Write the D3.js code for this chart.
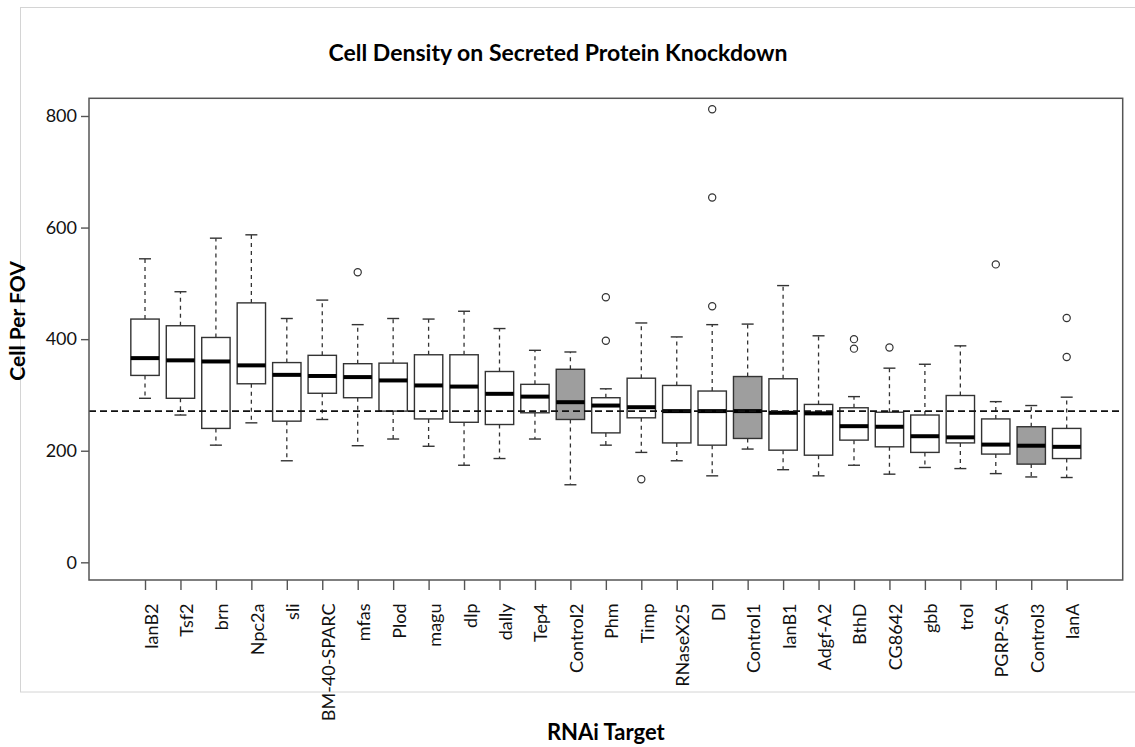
<!DOCTYPE html>
<html>
<head>
<meta charset="utf-8">
<script src="https://cdn.jsdelivr.net/npm/d3@7"></script>
<style>
  body { margin: 0; background: #fff; }
  svg { font-family: Lato, "Open Sans", sans-serif; }
</style>
</head>
<body>
<div id="chart"></div>
<script>
var width = 1135,
    height = 747;
var frame = { left: 89, right: 1122.7, top: 98.3, bottom: 580 };

var targets = ["lanB2", "Tsf2", "brn", "Npc2a", "sli", "BM-40-SPARC", "mfas", "Plod", "magu", "dlp",
    "dally", "Tep4", "Control2", "Phm", "Timp", "RNaseX25", "Dl", "Control1", "lanB1", "Adgf-A2",
    "BthD", "CG8642", "gbb", "trol", "PGRP-SA", "Control3", "lanA"];
var whiskerLow = [294, 264, 210, 250, 182, 256, 209, 221, 208, 174, 186, 221, 139, 210, 197, 182, 155, 203, 166, 155, 174, 158, 170, 168, 159, 153, 152];
var q1 = [335, 294, 240, 320, 253, 303, 295, 271, 257, 251, 247, 268, 256, 232, 259, 214, 210, 222, 201, 192, 219, 207, 197, 214, 194, 176, 186];
var medians = [366, 362, 360, 353, 336, 334, 332, 326, 317, 315, 302, 297, 287, 281, 278, 271, 271, 271, 268, 267, 244, 243, 226, 224, 211, 209, 207];
var q3 = [436, 424, 403, 465, 358, 371, 356, 357, 372, 372, 342, 319, 346, 295, 330, 317, 307, 333, 329, 283, 277, 269, 264, 299, 257, 243, 240];
var whiskerHigh = [544, 485, 581, 587, 437, 470, 426, 437, 436, 450, 419, 380, 377, 311, 429, 404, 426, 427, 496, 406, 297, 348, 355, 388, 288, 281, 296];
var outliers = [[], [], [], [], [], [], [520], [], [], [], [], [], [], [397, 475], [149], [], [459, 654, 812], [], [], [], [383, 400], [385], [], [], [534], [], [368, 438]];
var controls = ["Control1", "Control2", "Control3"];
var refLine = 271;
var yTicks = [0, 200, 400, 600, 800];

var data = targets.map((t, i) => ({
    name: t, lo: whiskerLow[i], q1: q1[i], med: medians[i], q3: q3[i], hi: whiskerHigh[i], out: outliers[i]
}));

var svg = d3.select("#chart").append("svg")
    .attr("width", width)
    .attr("height", height);

// faint outer border from the original figure
svg.append("rect")
    .attr("x", 20.5).attr("y", 7.5)
    .attr("width", 1130).attr("height", 684.5)
    .attr("fill", "none").attr("stroke", "#d4d4d4").attr("stroke-width", 1);

var x = d3.scalePoint()
    .domain(targets)
    .range([frame.left, frame.right])
    .padding(1.58);

var y = d3.scaleLinear()
    .domain([-31.7, 831.7])
    .range([frame.bottom, frame.top]);

var boxW = x.step() * 0.8;
var capW = 12;

var g = svg.append("g");

var box = g.selectAll(".box")
    .data(data)
    .enter().append("g")
    .attr("class", "box")
    .attr("transform", d => "translate(" + x(d.name) + ",0)");

// whiskers
box.append("line")
    .attr("y1", d => y(d.q3)).attr("y2", d => y(d.hi))
    .attr("stroke", "#333").attr("stroke-width", 1.3).attr("stroke-dasharray", "4,4");
box.append("line")
    .attr("y1", d => y(d.q1)).attr("y2", d => y(d.lo))
    .attr("stroke", "#333").attr("stroke-width", 1.3).attr("stroke-dasharray", "4,4");
box.append("line")
    .attr("x1", -capW / 2).attr("x2", capW / 2)
    .attr("y1", d => y(d.hi)).attr("y2", d => y(d.hi))
    .attr("stroke", "#333").attr("stroke-width", 1.4);
box.append("line")
    .attr("x1", -capW / 2).attr("x2", capW / 2)
    .attr("y1", d => y(d.lo)).attr("y2", d => y(d.lo))
    .attr("stroke", "#333").attr("stroke-width", 1.4);

box.append("rect")
    .attr("x", -boxW / 2)
    .attr("width", boxW)
    .attr("y", d => y(d.q3))
    .attr("height", d => y(d.q1) - y(d.q3))
    .attr("fill", d => controls.includes(d.name) ? "#9e9e9e" : "#fff")
    .attr("stroke", "#333").attr("stroke-width", 1.4);

box.append("line")
    .attr("x1", -boxW / 2).attr("x2", boxW / 2)
    .attr("y1", d => y(d.med)).attr("y2", d => y(d.med))
    .attr("stroke", "#000").attr("stroke-width", 4);

box.selectAll("circle")
    .data(d => d.out)
    .enter().append("circle")
    .attr("cy", d => y(d))
    .attr("r", 3.6)
    .attr("fill", "none").attr("stroke", "#333").attr("stroke-width", 1.2);

// dashed reference line on top
g.append("line")
    .attr("x1", frame.left).attr("x2", frame.right)
    .attr("y1", y(refLine)).attr("y2", y(refLine))
    .attr("stroke", "#111").attr("stroke-width", 1.6).attr("stroke-dasharray", "7,4");

// frame
g.append("rect")
    .attr("x", frame.left).attr("y", frame.top)
    .attr("width", frame.right - frame.left)
    .attr("height", frame.bottom - frame.top)
    .attr("fill", "none").attr("stroke", "#555").attr("stroke-width", 1.5);

var yAxis = d3.axisLeft(y).tickValues(yTicks).tickSize(8).tickPadding(4);
var gy = svg.append("g")
    .attr("transform", "translate(" + frame.left + ",0)")
    .call(yAxis);
gy.select(".domain").remove();
gy.selectAll("line").attr("stroke", "#555").attr("stroke-width", 1.4);
gy.selectAll("text")
    .attr("font-size", 18).attr("fill", "#111")
    .attr("font-family", "Lato, sans-serif");

var xAxis = d3.axisBottom(x).tickSize(10);
var gx = svg.append("g")
    .attr("transform", "translate(0," + frame.bottom + ")")
    .call(xAxis);
gx.select(".domain").remove();
gx.selectAll("line").attr("stroke", "#555").attr("stroke-width", 1.4);
gx.selectAll("text")
    .attr("transform", "rotate(-90)")
    .attr("text-anchor", "end")
    .attr("x", -23.5)
    .attr("y", 12)
    .attr("dy", 0)
    .attr("font-size", 18).attr("fill", "#111")
    .attr("font-family", "Lato, sans-serif");

svg.append("text")
    .attr("x", 558).attr("y", 61)
    .attr("text-anchor", "middle")
    .attr("font-size", 23).attr("font-weight", "bold")
    .text("Cell Density on Secreted Protein Knockdown");

svg.append("text")
    .attr("transform", "translate(25,321) rotate(-90)")
    .attr("text-anchor", "middle")
    .attr("font-size", 21).attr("font-weight", "bold")
    .text("Cell Per FOV");

svg.append("text")
    .attr("x", (frame.left + frame.right) / 2).attr("y", 740)
    .attr("text-anchor", "middle")
    .attr("font-size", 22).attr("font-weight", "bold")
    .text("RNAi Target");
</script>
</body>
</html>
